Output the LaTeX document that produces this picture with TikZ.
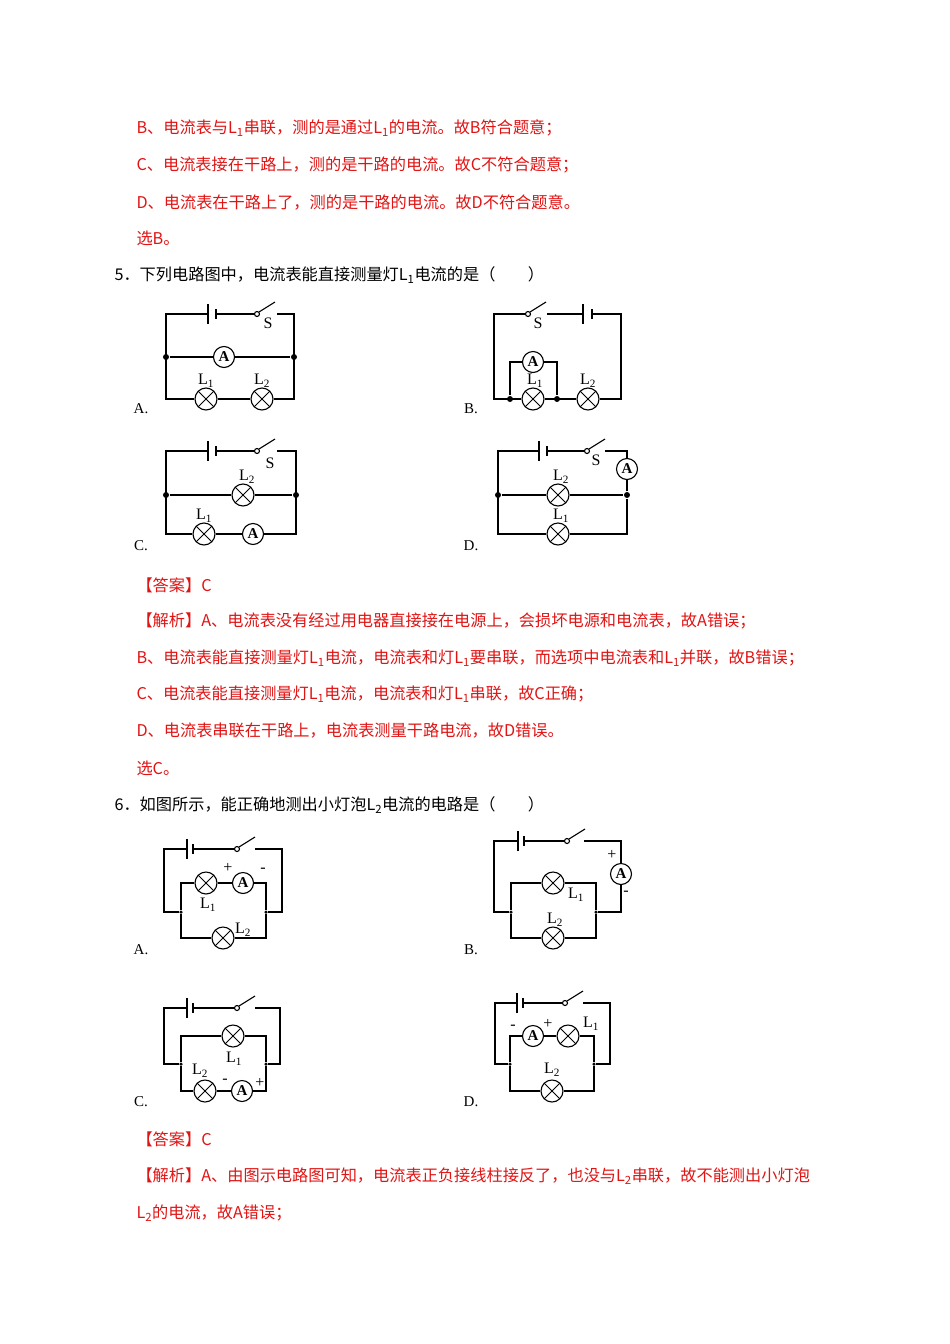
\documentclass[tikz,border=0pt]{standalone}
\usepackage{fontspec}
\setmainfont{Noto Sans CJK SC}
\newfontfamily\lat{Liberation Serif}
\usetikzlibrary{positioning,calc}
\definecolor{ans}{RGB}{225,20,20}
\newcommand\Ls[1]{L\textsubscript{#1}}
\newcommand\Lc[1]{{\lat L\textsubscript{#1}}}
% battery: long plate at x, short plate at x+gap
\newcommand\bat[3]{\draw (#1,#2-10) -- (#1,#2+10); \draw (#1+#3,#2-5) -- (#1+#3,#2+5);}
% switch: pivot at x
\newcommand\sw[2]{\draw (#1,#2) circle (2.5); \draw (#1+2,#2-2) -- (#1+18,#2-12);}
\tikzset{
  wire/.style={line width=1.1pt},
  lamp/.style={circle,draw,line width=1.1pt,fill=white,minimum size=22pt,inner sep=0pt,
    path picture={\draw[line width=1pt] (path picture bounding box.south west)--(path picture bounding box.north east)
      (path picture bounding box.north west)--(path picture bounding box.south east);}},
  meter/.style={circle,draw,line width=1.1pt,fill=white,minimum size=21pt,inner sep=0pt,font=\lat\bfseries\fontsize{15}{15}\selectfont},
  jn/.style={circle,fill,inner sep=0pt,minimum size=6pt},
  sj/.style={circle,fill,inner sep=0pt,minimum size=3.5pt},
  tag/.style={font=\lat\fontsize{16}{16}\selectfont},
  txt/.style={anchor=west,font=\fontsize{16.2}{18}\selectfont},
  red/.style={txt,text=ans},
  opt/.style={font=\lat\fontsize{15}{15}\selectfont}
}
\begin{document}
\begin{tikzpicture}[x=1pt,y=-1pt,every label/.style={tag,label distance=-4pt}]
\useasboundingbox[fill=white] (0,0) rectangle (950,1344);
% texts
\node[red] (t1) at (133,128) {B、电流表与\Ls1串联，测的是通过\Ls1的电流。故B符合题意；};
\node[red] (t2) at (133,165) {C、电流表接在干路上，测的是干路的电流。故C不符合题意；};
\node[red] (t3) at (133,202) {D、电流表在干路上了，测的是干路的电流。故D不符合题意。};
\node[red] (t4) at (133,238) {选B。};
\node[txt] (q5) at (111,275) {5．下列电路图中，电流表能直接测量灯\Ls1电流的是（　　）};
\node[red] (t5) at (133,585) {【答案】C};
\node[red] (t6) at (133,621) {【解析】A、电流表没有经过用电器直接接在电源上，会损坏电源和电流表，故A错误；};
\node[red] (t7) at (133,658) {B、电流表能直接测量灯\Ls1电流，电流表和灯\Ls1要串联，而选项中电流表和\Ls1并联，故B错误；};
\node[red] (t8) at (133,694) {C、电流表能直接测量灯\Ls1电流，电流表和灯\Ls1串联，故C正确；};
\node[red] (t9) at (133,731) {D、电流表串联在干路上，电流表测量干路电流，故D错误。};
\node[red] (t10) at (133,768) {选C。};
\node[txt] (q6) at (111,805) {6．如图所示，能正确地测出小灯泡\Ls2电流的电路是（　　）};
\node[red] (t11) at (133,1139) {【答案】C};
\node[red] (t12) at (133,1176) {【解析】A、由图示电路图可知，电流表正负接线柱接反了，也没与\Ls2串联，故不能测出小灯泡};
\node[red] (t13) at (133,1213) {\Ls2的电流，故A错误；};

\begin{scope}[wire]
% ---- 5A
\node[opt] (oA) at (141,409) {A.};
\coordinate (a1) at (166,314); \coordinate (a2) at (294,314);
\node[jn] (a3) at (166,357) {}; \node[jn] (a4) at (294,357) {};
\coordinate (a5) at (166,399); \coordinate (a6) at (294,399);
\node[meter] (aA) at (224,357) {A};
\node[lamp,label={above:\Lc1}] (aL1) at (206,399) {};
\node[lamp,label={above:\Lc2}] (aL2) at (262,399) {};
\bat{208}{314}{8} \sw{257}{314}
\node[tag] (aS) at (268,323) {S};
\draw (208,314) -- (a1) -- (a5) -- (aL1) -- (aL2) -- (a6) -- (a2) -- (277,314);
\draw (216,314) -- (254.5,314);
\draw (a3) -- (aA) -- (a4);
% ---- 5B
\node[opt] (oB) at (471,409) {B.};
\coordinate (b1) at (494,314); \coordinate (b2) at (621,314);
\coordinate (b5) at (494,399); \coordinate (b6) at (621,399);
\node[jn] (b3) at (510,399) {}; \node[jn] (b4) at (557,399) {};
\node[meter] (bA) at (533,362) {A};
\node[lamp,label={[xshift=2pt]above:\Lc1}] (bL1) at (533,399) {};
\node[lamp,label={above:\Lc2}] (bL2) at (588,399) {};
\sw{528}{314} \bat{583}{314}{9}
\node[tag] (bS) at (538,323) {S};
\draw (525.5,314) -- (b1) -- (b5) -- (bL1) -- (bL2) -- (b6) -- (b2) -- (592,314);
\draw (583,314) -- (547,314);
\draw (b3) |- (bA) -| (b4);
% ---- 5C
\node[opt] (oC) at (141,546) {C.};
\coordinate (c1) at (166,451); \coordinate (c2) at (296,451);
\node[jn] (c3) at (166,495) {}; \node[jn] (c4) at (296,495) {};
\coordinate (c5) at (166,534); \coordinate (c6) at (296,534);
\node[lamp,label={[xshift=4pt]above:\Lc2}] (cL2) at (243,495) {};
\node[lamp,label={above:\Lc1}] (cL1) at (204,534) {};
\node[meter] (cA) at (253,534) {A};
\bat{208}{451}{8} \sw{257}{451}
\node[tag] (cS) at (270,463) {S};
\draw (208,451) -- (c1) -- (c5) -- (cL1) -- (cA) -- (c6) -- (c2) -- (277,451);
\draw (216,451) -- (254.5,451);
\draw (c3) -- (cL2) -- (c4);
% ---- 5D
\node[opt] (oD) at (471,546) {D.};
\coordinate (d1) at (498,451); \coordinate (d2) at (627,451);
\node[jn] (d3) at (498,495) {}; \node[jn] (d4) at (627,495) {};
\coordinate (d5) at (498,534); \coordinate (d6) at (627,534);
\node[meter] (dA) at (627,469) {A};
\node[lamp,label={[xshift=3pt]above:\Lc2}] (dL2) at (558,495) {};
\node[lamp,label={[xshift=3pt]above:\Lc1}] (dL1) at (558,534) {};
\bat{539}{451}{8} \sw{587}{451}
\node[tag] (dS) at (596,460) {S};
\draw (539,451) -- (d1) -- (d5) -- (dL1) -- (d6) -- (d4) -- (dA) -- (d2) -- (605,451);
\draw (547,451) -- (584.5,451);
\draw (d3) -- (dL2) -- (d4);
% ---- 6A
\node[opt] (pA) at (141,950) {A.};
\coordinate (e1) at (164,849); \coordinate (e2) at (282,849);
\coordinate (e3) at (164,912); \coordinate (e4) at (282,912);
\node[sj] (e5) at (181,912) {}; \node[sj] (e6) at (266,912) {};
\coordinate (e7) at (181,883); \coordinate (e8) at (266,883);
\coordinate (e9) at (181,938); \coordinate (e10) at (266,938);
\node[lamp] (eL1) at (206,883) {};
\node[meter] (eA) at (243,883) {A};
\node[lamp] (eL2) at (223,938) {};
\node[tag] at (208,905) {L\textsubscript{1}};
\node[tag] at (243,930) {L\textsubscript{2}};
\node[tag] at (228,868) {+}; \node[tag] at (263,870) {-};
\bat{187}{849}{6} \sw{237}{849}
\draw (187,849) -- (e1) -- (e3) -- (e5) -- (e9) -- (eL2) -- (e10) -- (e6) -- (e4) -- (e2) -- (255,849);
\draw (193,849) -- (234.5,849);
\draw (e5) -- (e7) -- (eL1) -- (eA) -- (e8) -- (e6);
% ---- 6B
\node[opt] (pB) at (471,950) {B.};
\coordinate (f1) at (494,841); \coordinate (f2) at (621,841);
\coordinate (f3) at (494,912); \coordinate (f4) at (621,912);
\node[sj] (f5) at (511,912) {}; \node[sj] (f6) at (596,912) {};
\coordinate (f7) at (511,883); \coordinate (f8) at (596,883);
\coordinate (f9) at (511,938); \coordinate (f10) at (596,938);
\node[meter] (fA) at (621,874) {A};
\node[lamp] (fL1) at (553,883) {};
\node[lamp] (fL2) at (553,938) {};
\node[tag] at (576,895) {L\textsubscript{1}};
\node[tag] at (555,920) {L\textsubscript{2}};
\node[tag] at (612,855) {+}; \node[tag] at (626,893) {-};
\bat{518}{841}{6} \sw{567}{841}
\draw (518,841) -- (f1) -- (f3) -- (f5) -- (f9) -- (fL2) -- (f10) -- (f6) -- (f4) -- (fA) -- (f2) -- (584,841);
\draw (524,841) -- (564.5,841);
\draw (f5) -- (f7) -- (fL1) -- (f8) -- (f6);
% ---- 6C
\node[opt] (pC) at (141,1102) {C.};
\coordinate (g1) at (164,1008); \coordinate (g2) at (280,1008);
\coordinate (g3) at (164,1064); \coordinate (g4) at (280,1064);
\node[sj] (g5) at (181,1064) {}; \node[sj] (g6) at (266,1064) {};
\coordinate (g7) at (181,1036); \coordinate (g8) at (266,1036);
\coordinate (g9) at (181,1091); \coordinate (g10) at (266,1091);
\node[lamp] (gL1) at (233,1036) {};
\node[lamp] (gL2) at (205,1091) {};
\node[meter] (gA) at (242,1091) {A};
\node[tag] at (234,1059) {L\textsubscript{1}};
\node[tag] at (200,1071) {L\textsubscript{2}};
\node[tag] at (225,1081) {-}; \node[tag] at (260,1083) {+};
\bat{187}{1008}{6} \sw{237}{1008}
\draw (187,1008) -- (g1) -- (g3) -- (g5) -- (g9) -- (gL2) -- (gA) -- (g10) -- (g6) -- (g4) -- (g2) -- (255,1008);
\draw (193,1008) -- (234.5,1008);
\draw (g5) -- (g7) -- (gL1) -- (g8) -- (g6);
% ---- 6D
\node[opt] (pD) at (471,1102) {D.};
\coordinate (h1) at (495,1003); \coordinate (h2) at (610,1003);
\coordinate (h3) at (495,1064); \coordinate (h4) at (610,1064);
\node[sj] (h5) at (510,1064) {}; \node[sj] (h6) at (594,1064) {};
\coordinate (h7) at (510,1036); \coordinate (h8) at (594,1036);
\coordinate (h9) at (510,1091); \coordinate (h10) at (594,1091);
\node[meter] (hA) at (533,1036) {A};
\node[lamp] (hL1) at (568,1036) {};
\node[lamp] (hL2) at (552,1091) {};
\node[tag] at (591,1024) {L\textsubscript{1}};
\node[tag] at (552,1070) {L\textsubscript{2}};
\node[tag] at (513,1027) {-}; \node[tag] at (548,1024) {+};
\bat{517}{1003}{6} \sw{565}{1003}
\draw (517,1003) -- (h1) -- (h3) -- (h5) -- (h9) -- (hL2) -- (h10) -- (h6) -- (h4) -- (h2) -- (583,1003);
\draw (523,1003) -- (562.5,1003);
\draw (h5) -- (h7) -- (hA) -- (hL1) -- (h8) -- (h6);
\end{scope}
\end{tikzpicture}
\end{document}
